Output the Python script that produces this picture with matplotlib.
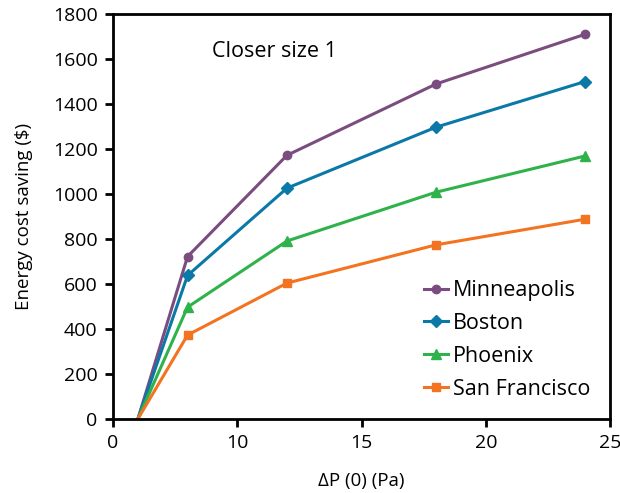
import matplotlib
matplotlib.use("Agg")
import matplotlib.pyplot as plt

plt.rcParams['font.family'] = ['Open Sans', 'DejaVu Sans']

# data
dp = [6, 8, 12, 18, 24]
minneapolis = [0, 722, 1172, 1489, 1710]
boston = [0, 638, 1026, 1297, 1500]
phoenix = [0, 497, 791, 1008, 1169]
san_francisco = [0, 373, 604, 774, 888]

x_ticks = [5, 10, 15, 20, 25]
x_tick_labels = ['0', '10', '15', '20', '25']

series = [
    ('Minneapolis', minneapolis, '#7b4c7f', 'o', 6),
    ('Boston', boston, '#0b79a8', 'D', 6),
    ('Phoenix', phoenix, '#2eb24a', '^', 7),
    ('San Francisco', san_francisco, '#f37321', 's', 6),
]

fig = plt.figure(figsize=(6.2, 4.93), dpi=100)
ax = fig.add_axes([113 / 620, 1 - 419 / 493, 497 / 620, 405 / 493])

for name, vals, color, marker, ms in series:
    ax.plot(dp, vals, color=color, marker=marker, markersize=ms,
            linewidth=2.2, label=name, markevery=range(1, len(dp)))

ax.set_xlim(5, 25)
ax.set_ylim(0, 1800)
ax.set_xticks(x_ticks)
ax.set_xticklabels(x_tick_labels)
ax.set_yticks(range(0, 1801, 200))

for s in ax.spines.values():
    s.set_linewidth(2)
ax.tick_params(axis='both', direction='out', length=6, width=2,
               labelsize=14, pad=5)

ax.set_xlabel('ΔP (0) (Pa)', fontsize=13.5, labelpad=14)
ax.set_ylabel('Energy cost saving ($)', fontsize=13.5, labelpad=14)

ax.text(0.2, 0.907, 'Closer size 1', transform=ax.transAxes,
        fontsize=15.5, va='center')

ax.legend(loc='lower right', frameon=False, fontsize=15.5,
          handlelength=1.1, handletextpad=0.25, labelspacing=0.55,
          bbox_to_anchor=(1.0, 0.0))

fig.savefig('out.png', dpi=100)
